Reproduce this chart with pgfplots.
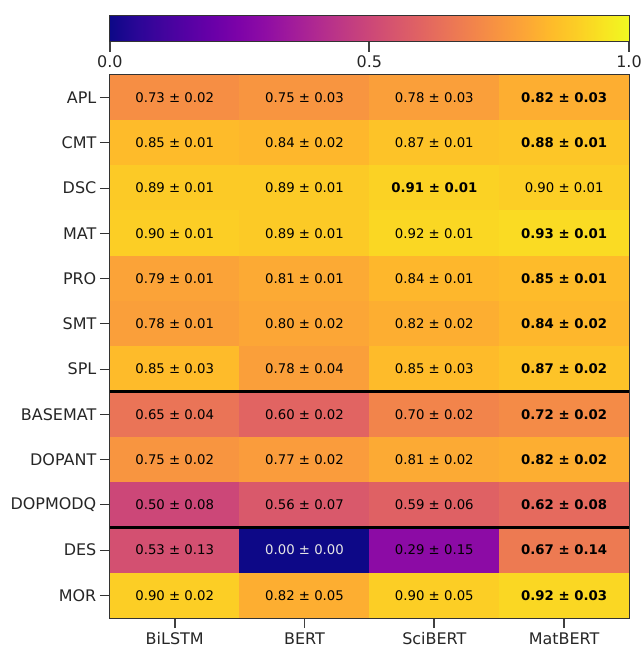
\documentclass[border=0pt]{standalone}
\usepackage{pgfplots}
\pgfplotsset{compat=1.18}
\usepackage{pgfplotstable}
\usepackage{fontspec}
\setmainfont{DejaVu Sans}

\pgfplotsset{
  colormap={plasma}{rgb255=(13,8,135) rgb255=(41,6,150) rgb255=(65,4,157) rgb255=(86,1,164) rgb255=(106,0,168) rgb255=(126,3,168) rgb255=(143,13,164) rgb255=(161,27,155) rgb255=(177,42,144) rgb255=(191,57,132) rgb255=(204,71,120) rgb255=(215,86,109) rgb255=(225,100,98) rgb255=(234,116,87) rgb255=(242,132,75) rgb255=(248,149,64) rgb255=(252,166,54) rgb255=(254,187,42) rgb255=(252,206,37) rgb255=(248,228,33) rgb255=(240,249,33)},
  /pgf/number format/assume math mode=true,
  every tick label/.append style={font=\fontsize{16}{19}\selectfont, text=black!85},
}

\pgfplotstableread[col sep=comma]{
x,y,v,b,lab
0,0,0.73,0,0.73 ± 0.02
1,0,0.75,0,0.75 ± 0.03
2,0,0.78,0,0.78 ± 0.03
3,0,0.82,1,0.82 ± 0.03
0,1,0.85,0,0.85 ± 0.01
1,1,0.84,0,0.84 ± 0.02
2,1,0.87,0,0.87 ± 0.01
3,1,0.88,1,0.88 ± 0.01
0,2,0.89,0,0.89 ± 0.01
1,2,0.89,0,0.89 ± 0.01
2,2,0.91,1,0.91 ± 0.01
3,2,0.90,0,0.90 ± 0.01
0,3,0.90,0,0.90 ± 0.01
1,3,0.89,0,0.89 ± 0.01
2,3,0.92,0,0.92 ± 0.01
3,3,0.93,1,0.93 ± 0.01
0,4,0.79,0,0.79 ± 0.01
1,4,0.81,0,0.81 ± 0.01
2,4,0.84,0,0.84 ± 0.01
3,4,0.85,1,0.85 ± 0.01
0,5,0.78,0,0.78 ± 0.01
1,5,0.80,0,0.80 ± 0.02
2,5,0.82,0,0.82 ± 0.02
3,5,0.84,1,0.84 ± 0.02
0,6,0.85,0,0.85 ± 0.03
1,6,0.78,0,0.78 ± 0.04
2,6,0.85,0,0.85 ± 0.03
3,6,0.87,1,0.87 ± 0.02
0,7,0.65,0,0.65 ± 0.04
1,7,0.60,0,0.60 ± 0.02
2,7,0.70,0,0.70 ± 0.02
3,7,0.72,1,0.72 ± 0.02
0,8,0.75,0,0.75 ± 0.02
1,8,0.77,0,0.77 ± 0.02
2,8,0.81,0,0.81 ± 0.02
3,8,0.82,1,0.82 ± 0.02
0,9,0.50,0,0.50 ± 0.08
1,9,0.56,0,0.56 ± 0.07
2,9,0.59,0,0.59 ± 0.06
3,9,0.62,1,0.62 ± 0.08
0,10,0.53,0,0.53 ± 0.13
1,10,0.00,2,0.00 ± 0.00
2,10,0.29,0,0.29 ± 0.15
3,10,0.67,1,0.67 ± 0.14
0,11,0.90,0,0.90 ± 0.02
1,11,0.82,0,0.82 ± 0.05
2,11,0.90,0,0.90 ± 0.05
3,11,0.92,1,0.92 ± 0.03
}\cells

\begin{document}
\begin{tikzpicture}
\begin{axis}[
  at={(0,0)}, anchor=south west,
  width=520pt, height=544pt, scale only axis,
  xmin=-0.5, xmax=3.5, ymin=-0.5, ymax=11.5,
  y dir=reverse,
  axis on top,
  axis line style={black!80, line width=0.9pt},
  xtick={0,1,2,3},
  xticklabels={BiLSTM,BERT,SciBERT,MatBERT},
  ytick={0,...,11},
  yticklabels={APL,CMT,DSC,MAT,PRO,SMT,SPL,BASEMAT,DOPANT,DOPMODQ,DES,MOR},
  xtick pos=bottom, ytick pos=left,
  tick align=outside, major tick length=10pt,
  tick style={black!80, line width=0.9pt},
  major x tick style={black!75, line width=1.9pt},
  xticklabel style={yshift=-1pt},
  colormap name=plasma,
  point meta min=0, point meta max=1,
]
\addplot[matrix plot*, mesh/cols=4, point meta=explicit, draw=none] table[x=x, y=y, meta=v] {\cells};

\addplot[draw=none, mark=none, point meta=explicit symbolic,
  nodes near coords, nodes near coords align=center,
  every node near coord/.append style={font=\fontsize{13.3}{16}\selectfont, text=black, anchor=center},
  restrict expr to domain={\thisrow{b}}{0:0}, unbounded coords=jump]
  table[x=x, y=y, meta=lab] {\cells};
\addplot[draw=none, mark=none, point meta=explicit symbolic,
  nodes near coords, nodes near coords align=center,
  every node near coord/.append style={font=\fontsize{13.3}{16}\selectfont\bfseries, text=black, anchor=center},
  restrict expr to domain={\thisrow{b}}{1:1}, unbounded coords=jump]
  table[x=x, y=y, meta=lab] {\cells};
\addplot[draw=none, mark=none, point meta=explicit symbolic,
  nodes near coords, nodes near coords align=center,
  every node near coord/.append style={font=\fontsize{13.3}{16}\selectfont, text=white!90!black, anchor=center},
  restrict expr to domain={\thisrow{b}}{2:2}, unbounded coords=jump]
  table[x=x, y=y, meta=lab] {\cells};

\addplot[black, line width=2.6pt, forget plot] coordinates {(-0.5,6.5) (3.5,6.5)};
\addplot[black, line width=2.6pt, forget plot] coordinates {(-0.5,9.5) (3.5,9.5)};
\end{axis}

\begin{axis}[
  at={(0,577pt)}, anchor=south west,
  width=520pt, height=27pt, scale only axis,
  xmin=0, xmax=1, ymin=0, ymax=1,
  axis on top,
  ytick=\empty,
  xtick={0,0.5,1},
  xticklabel style={/pgf/number format/.cd, fixed, fixed zerofill, precision=1},
  xtick pos=bottom,
  tick align=outside, major tick length=10pt,
  tick style={black!80, line width=0.9pt},
  major x tick style={black!75, line width=1.9pt},
  axis line style={black!80, line width=0.9pt},
  colormap name=plasma,
  point meta min=0, point meta max=1,
]
\addplot[patch, patch type=rectangle, shader=interp, point meta=x] coordinates {
(0,0) (1,0) (1,1) (0,1)
};
\end{axis}
\pgfresetboundingbox
\path[use as bounding box] (-110pt,-30pt) rectangle (533pt,619pt);
\end{tikzpicture}
\end{document}
